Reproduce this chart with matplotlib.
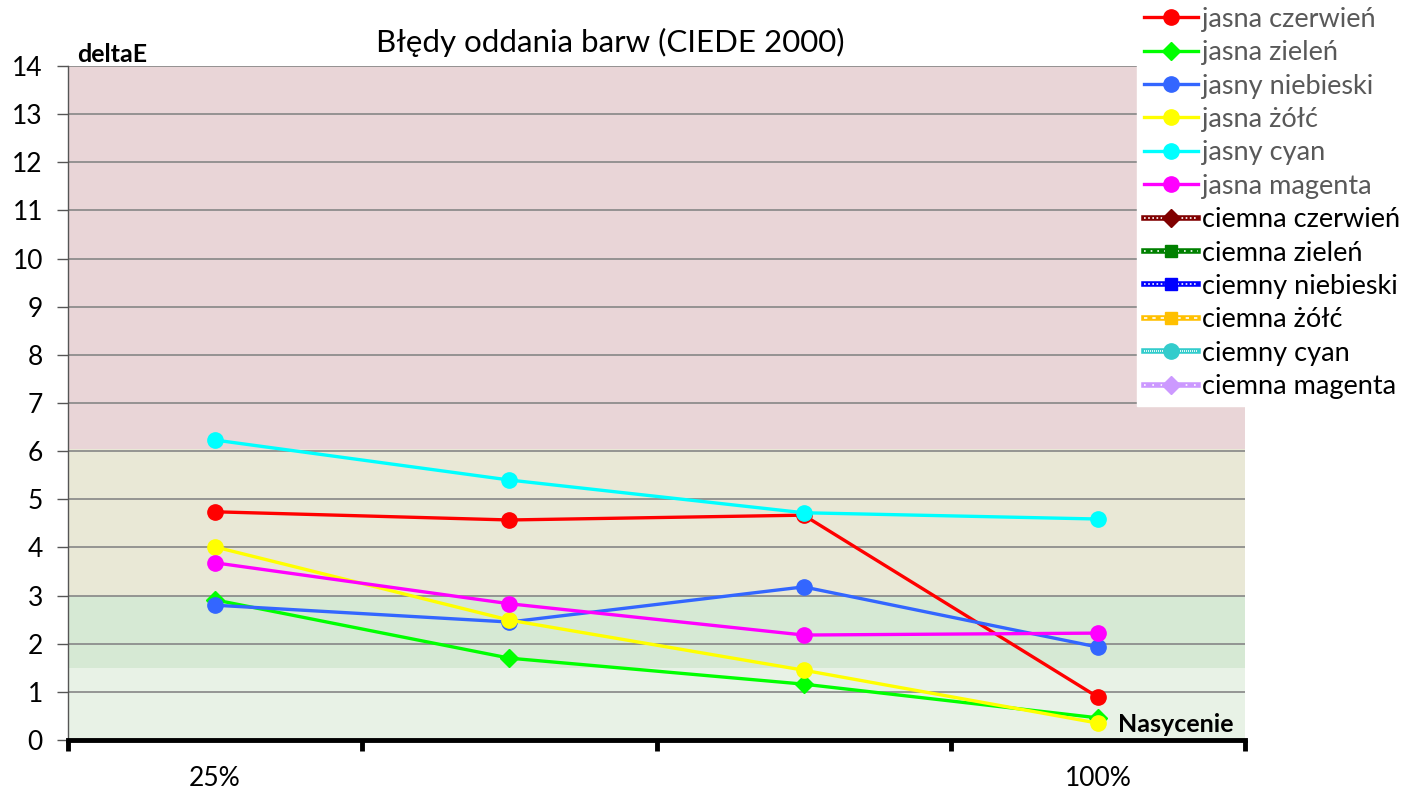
import matplotlib
matplotlib.use("Agg")
import matplotlib.pyplot as plt
from matplotlib.lines import Line2D
from matplotlib.legend_handler import HandlerTuple
import numpy as np

plt.rcParams["font.family"] = ["Lato", "DejaVu Sans"]

kategorie = ["25%", "", "", "100%"]

jasna_czerwien = [4.74, 4.57, 4.67, 0.89]
jasna_zielen = [2.91, 1.70, 1.16, 0.46]
jasny_niebieski = [2.80, 2.45, 3.18, 1.93]
jasna_zolc = [4.01, 2.49, 1.45, 0.35]
jasny_cyan = [6.23, 5.40, 4.72, 4.59]
jasna_magenta = [3.68, 2.83, 2.18, 2.22]
# ciemne serie - bez danych, tylko w legendzie
brak = [np.nan, np.nan, np.nan, np.nan]

pasma = [(0, 1.5, "#e8f2e6"), (1.5, 3, "#d6e9d4"), (3, 6.05, "#e9e8d6"), (6.05, 14, "#e9d5d7")]

# nazwa, wartosci, kolor, marker, wzor nakladki (None = linia ciagla)
serie = [
    ("jasna czerwień", jasna_czerwien, "#ff0000", "o", None),
    ("jasna zieleń", jasna_zielen, "#00ff00", "D", None),
    ("jasny niebieski", jasny_niebieski, "#3366ff", "o", None),
    ("jasna żółć", jasna_zolc, "#ffff00", "o", None),
    ("jasny cyan", jasny_cyan, "#00ffff", "o", None),
    ("jasna magenta", jasna_magenta, "#ff00ff", "o", None),
    ("ciemna czerwień", brak, "#800000", "D", (0, (1, 1.5))),
    ("ciemna zieleń", brak, "#008000", "s", (0, (1, 3))),
    ("ciemny niebieski", brak, "#0000ff", "s", (0, (1, 1.5))),
    ("ciemna żółć", brak, "#ffc000", "s", (0, (2, 3))),
    ("ciemny cyan", brak, "#33cccc", "o", (0, (0.6, 0.6))),
    ("ciemna magenta", brak, "#cc99ff", "D", (0, (1, 4))),
]

fig = plt.figure(figsize=(14.07, 7.98), dpi=100)
ax = fig.add_axes([0.0483, 0.0727, 0.8366, 0.8446])

for dol, gora, kolor in pasma:
    ax.axhspan(dol, gora, color=kolor, zorder=0, linewidth=0)

x = np.arange(len(kategorie))
uchwyty = []
for nazwa, wartosci, kolor, marker, wzor in serie:
    ms = 11 if marker == "o" else 9
    ax.plot(x, wartosci, color=kolor, marker=marker, linewidth=2.4,
            markersize=ms, zorder=3)
    if wzor is None:
        uchwyty.append(Line2D([], [], color=kolor, marker=marker, linewidth=2.4, markersize=ms))
    else:
        baza = Line2D([], [], color=kolor, linewidth=4)
        nakladka = Line2D([], [], color="white", linewidth=1.2, linestyle=wzor)
        znacznik = Line2D([], [], color=kolor, marker=marker, linestyle="none", markersize=ms)
        uchwyty.append((baza, nakladka, znacznik))

ax.set_xlim(-0.5, 3.5)
ax.set_ylim(0, 14)
ax.set_yticks(range(0, 15))
ax.yaxis.grid(True, color="#868686", linewidth=1.2, zorder=1)
ax.set_axisbelow(True)
ax.tick_params(axis="y", labelsize=19, length=8, width=1, color="#555555", pad=10)

ax.set_xticks(np.arange(-0.5, 4, 1))
ax.set_xticklabels([])
ax.tick_params(axis="x", which="major", length=8, width=3.5, direction="out", color="black")
ax.set_xticks(x, minor=True)
ax.set_xticklabels(kategorie, minor=True)
ax.tick_params(axis="x", which="minor", length=0, labelsize=19, pad=19)

for s in ("top", "right"):
    ax.spines[s].set_visible(False)
ax.spines["left"].set_color("#555555")
ax.spines["left"].set_linewidth(1)
ax.spines["bottom"].set_color("black")
ax.spines["bottom"].set_linewidth(3.5)

fig.text(0.434, 0.947, "Błędy oddania barw (CIEDE 2000)", fontsize=22.5, ha="center", va="center")
ax.text(0.008, 1.0, "deltaE", transform=ax.transAxes, fontsize=18, fontweight="bold", va="bottom")
ax.text(0.99, 0.006, "Nasycenie", transform=ax.transAxes, fontsize=18, fontweight="bold",
        ha="right", va="bottom", zorder=5)

leg = fig.legend(uchwyty, [s[0] for s in serie], loc="upper right", bbox_to_anchor=(1.0, 1.0),
                 fontsize=19.5, frameon=True, facecolor="white", edgecolor="white", framealpha=1,
                 fancybox=False, handlelength=2.0, handletextpad=0.15, labelspacing=0.31,
                 borderpad=0.25, borderaxespad=0.0,
                 handler_map={tuple: HandlerTuple(ndivide=1, pad=0)})
for i, t in enumerate(leg.get_texts()):
    t.set_color("#595959" if i < 6 else "black")

fig.savefig("out.png", dpi=100)
